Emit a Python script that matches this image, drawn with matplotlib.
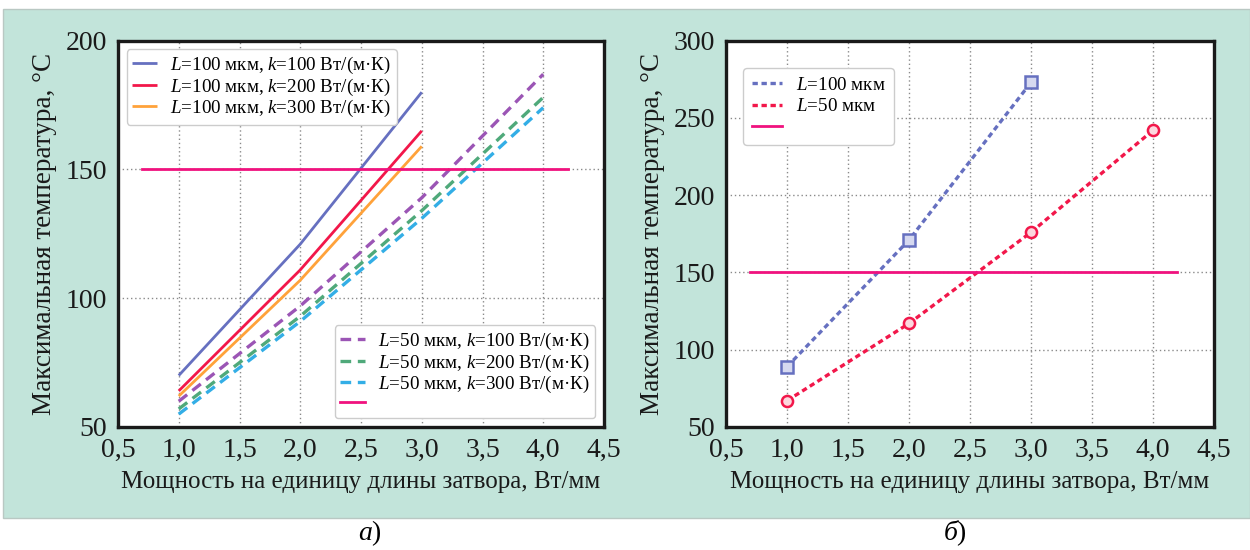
import matplotlib
matplotlib.use("Agg")
import matplotlib.pyplot as plt
from matplotlib.patches import Rectangle
from matplotlib.lines import Line2D
from matplotlib.ticker import FuncFormatter

plt.rcParams['font.family'] = ['Liberation Serif', 'DejaVu Serif']
plt.rcParams['mathtext.fontset'] = 'custom'
plt.rcParams['mathtext.rm'] = 'Liberation Serif'
plt.rcParams['mathtext.it'] = 'Liberation Serif:italic'

# ---- data (a) ----
x_L100 = [1.0, 2.0, 3.0]
t_L100_k100 = [70, 121, 180]
t_L100_k200 = [64, 111, 165]
t_L100_k300 = [62, 107, 159]
x_L50 = [1.0, 2.0, 3.0, 4.0]
t_L50_k100 = [60, 97, 139, 187]
t_L50_k200 = [57, 93, 134, 178]
t_L50_k300 = [55, 91, 131, 174]
limit_T = 150
limit_x = [0.7, 4.2]

# ---- data (b) ----
xb_L100 = [1.0, 2.0, 3.0]
tb_L100 = [89, 171, 273]
xb_L50 = [1.0, 2.0, 3.0, 4.0]
tb_L50 = [67, 117, 176, 242]

xticks = [0.5, 1.0, 1.5, 2.0, 2.5, 3.0, 3.5, 4.0, 4.5]
yticks_a = [50, 100, 150, 200]
yticks_b = [50, 100, 150, 200, 250, 300]

labels_a1 = ["$L$=100 мкм, $k$=100 Вт/(м·К)",
             "$L$=100 мкм, $k$=200 Вт/(м·К)",
             "$L$=100 мкм, $k$=300 Вт/(м·К)"]
labels_a2 = ["$L$=50 мкм, $k$=100 Вт/(м·К)",
             "$L$=50 мкм, $k$=200 Вт/(м·К)",
             "$L$=50 мкм, $k$=300 Вт/(м·К)",
             " "]
labels_b = ["$L$=100 мкм", "$L$=50 мкм", " "]

xlabel = "Мощность на единицу длины затвора, Вт/мм"
ylabel = "Максимальная температура, °С"

C_BLUE = '#6670c0'
C_RED = '#f2174a'
C_ORANGE = '#ffa23a'
C_PURPLE = '#9b55b5'
C_GREEN = '#4fa97a'
C_CYAN = '#33aee6'
C_MAG = '#f0127e'
TEAL = '#c2e4da'

fig = plt.figure(figsize=(12.5, 5.5), dpi=100)
fig.patch.set_facecolor('white')
W, H = 1250, 550
fig.patches.append(Rectangle((3 / W, (H - 518) / H), (W - 3) / W, (518 - 9) / H,
                             transform=fig.transFigure, facecolor=TEAL,
                             edgecolor='#b9c8c3', linewidth=1, zorder=-10))

comma = FuncFormatter(lambda v, p: f"{v:.1f}".replace('.', ','))


def style(ax, yticks, ylim):
    ax.set_facecolor('white')
    ax.set_xlim(0.5, 4.5)
    ax.set_ylim(*ylim)
    ax.set_xticks(xticks)
    ax.set_yticks(yticks)
    ax.xaxis.set_major_formatter(comma)
    ax.tick_params(length=0, labelsize=20, pad=8, colors='#1a1a1a')
    ax.grid(True, linestyle=(0, (1, 2)), color='#8a8a8a', linewidth=1.0)
    for s in ax.spines.values():
        s.set_color('#1a1a1a')
        s.set_linewidth(2.4)
    ax.set_xlabel(xlabel, fontsize=18, color='#1a1a1a', labelpad=6)
    ax.set_ylabel(ylabel, fontsize=19.5, color='#1a1a1a', labelpad=6)


axA = fig.add_axes([118 / W, (H - 427) / H, 486 / W, 386.3 / H])
axB = fig.add_axes([726 / W, (H - 427) / H, 488 / W, 386.3 / H])
style(axA, yticks_a, (50, 200))
style(axB, yticks_b, (50, 300))

# ---- chart (a) ----
solid_kw = dict(linewidth=2.0, solid_capstyle='butt')
h1 = axA.plot(x_L100, t_L100_k100, color=C_BLUE, **solid_kw)[0]
h2 = axA.plot(x_L100, t_L100_k200, color=C_RED, **solid_kw)[0]
h3 = axA.plot(x_L100, t_L100_k300, color=C_ORANGE, **solid_kw)[0]
dash_kw = dict(linewidth=2.4, linestyle=(0, (3.2, 2.0)))
h4 = axA.plot(x_L50, t_L50_k100, color=C_PURPLE, **dash_kw)[0]
h5 = axA.plot(x_L50, t_L50_k200, color=C_GREEN, **dash_kw)[0]
h6 = axA.plot(x_L50, t_L50_k300, color=C_CYAN, **dash_kw)[0]
h7 = axA.plot(limit_x, [limit_T, limit_T], color=C_MAG, linewidth=2.0)[0]

leg_kw = dict(fontsize=13.7, frameon=True, fancybox=True, framealpha=1,
              edgecolor='#cccccc', handlelength=1.3, handletextpad=0.7,
              labelspacing=0.02, borderpad=0.3, borderaxespad=0.45)
legA1 = axA.legend([h1, h2, h3], labels_a1, loc='upper left', **leg_kw)
axA.add_artist(legA1)
axA.legend([h4, h5, h6, h7], labels_a2, loc='lower right', **leg_kw)

# ---- chart (b) ----
dot_ls = (0, (1.6, 1.1))
dot_kw = dict(linewidth=2.4, linestyle=dot_ls, markersize=8,
              markeredgewidth=1.8)
hb1 = axB.plot(xb_L100, tb_L100, color=C_BLUE, marker='s',
               markerfacecolor='#d6d9f0', markeredgecolor=C_BLUE, **dot_kw)[0]
hb2 = axB.plot(xb_L50, tb_L50, color=C_RED, marker='o',
               markerfacecolor='#fcd7de', markeredgecolor=C_RED, **dot_kw)[0]
hb3 = axB.plot(limit_x, [limit_T, limit_T], color=C_MAG, linewidth=2.0)[0]
hb1_leg = Line2D([], [], color=C_BLUE, linewidth=2.4, linestyle=dot_ls)
hb2_leg = Line2D([], [], color=C_RED, linewidth=2.4, linestyle=dot_ls)
legb_kw = dict(leg_kw)
legb_kw['handlelength'] = 1.6
legb_kw['labelspacing'] = 0.22
legb_kw['borderpad'] = 0.45
axB.legend([hb1_leg, hb2_leg, hb3], labels_b, loc='upper left',
           bbox_to_anchor=(0.018, 0.952), **legb_kw)

# captions
fig.text(370 / W, 1 - 533 / H, "$a$)", fontsize=20, ha='center', va='center')
fig.text(955 / W, 1 - 533 / H, "$б$)", fontsize=20, ha='center', va='center')

fig.savefig("out.png", dpi=100, facecolor=fig.get_facecolor())
